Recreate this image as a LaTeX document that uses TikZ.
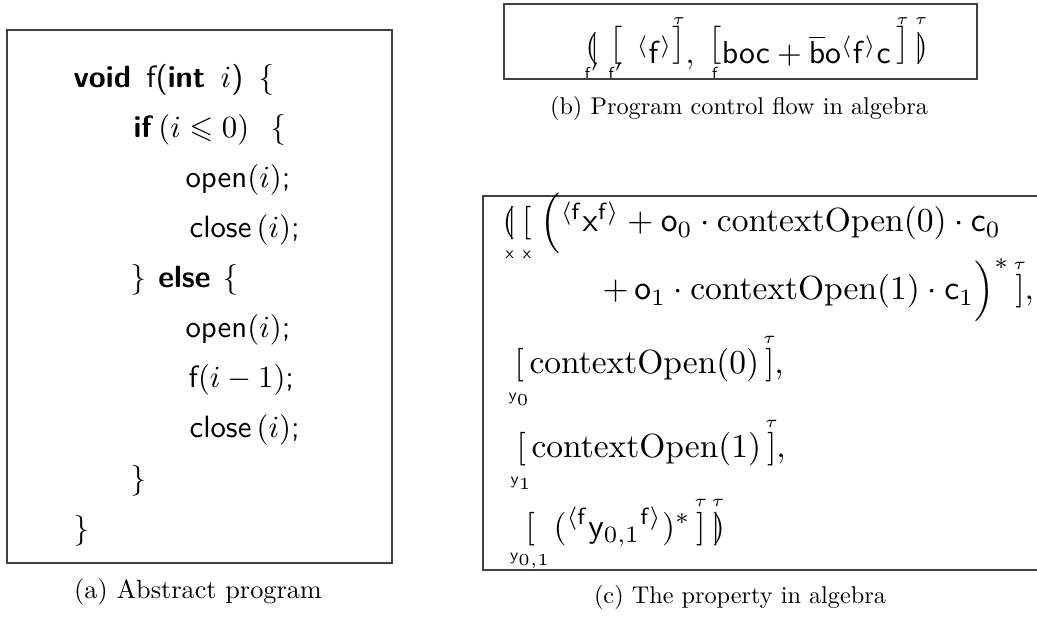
\documentclass[tikz,border=0pt]{standalone}
\usepackage{amsmath,amssymb}
\tikzset{
  frame/.style={draw=black!75, line width=0.5pt},
  codeline/.style={anchor=base west, inner sep=0pt, scale=1.23, font=\sffamily},
  formula/.style={anchor=base west, inner sep=0pt, scale=1.34},
  caption/.style={anchor=base, inner sep=0pt},
}
\newcommand{\llpar}{{(\mkern-4.5mu|}}
\newcommand{\rrpar}{{|\mkern-4.5mu)}}
% #1 symbol, #2 raise of symbol, #3 label, #4 raise of label (centred on the symbol)
\newcommand{\lab}[4]{\mathord{\setbox0=\hbox{\raisebox{#2}{$#1$}}\hbox to\wd0{\hss\raisebox{#4}[0pt][0pt]{$\scriptscriptstyle #3$}\hss}\kern-\wd0\box0}}
\begin{document}
\begin{tikzpicture}[x=0.4pt,y=-0.4pt]
\useasboundingbox (0,0) rectangle (1037,617);
% ---------- (a) ----------
\draw[frame] (7,30) rectangle (392,563);
\node[codeline] (a1) at (73,88) {\textbf{void}\hskip5pt f(\textbf{int}\hskip5pt$i$)\hskip5pt\{};
\node[codeline] (a2) at (133,138) {\textbf{if}\,$(i\leqslant 0)$\hskip7pt\{};
\node[codeline] (a3) at (185,188) {open$(i)$;};
\node[codeline] (a4) at (189,238) {close\,$(i)$;};
\node[codeline] (a5) at (130,288) {\}\hskip4pt\textbf{else}\hskip4pt\{};
\node[codeline] (a6) at (185,338) {open$(i)$;};
\node[codeline] (a7) at (188,388) {f$(i-1)$;};
\node[codeline] (a8) at (189,438) {close\,$(i)$;};
\node[codeline] (a9) at (130,488) {\}};
\node[codeline] (a10) at (73,538) {\}};
\node[caption, scale=1.05] (capa) at (198,598) {(a) Abstract program};
% ---------- (b) ----------
\draw[frame] (504,4) rectangle (977,79);
\node[formula, scale=1.27/1.34] (fb) at (585,64) {$\lab{\llpar}{2.5pt}{\mathsf{f}'}{-4.5pt}\mkern6mu\lab{\big[}{3.5pt}{\mathsf{f}'}{-4.5pt}\mkern8mu{}^{\langle}\mathsf{f}^{\rangle}\lab{\big]}{3.5pt}{\tau}{12.5pt},\;\lab{\big[}{3.5pt}{\mathsf{f}}{-4.5pt}\mathsf{boc}+\overline{\mathsf{b}}\mathsf{o}{}^{\langle}\mathsf{f}^{\rangle}\mathsf{c}\,\lab{\big]}{3.5pt}{\tau}{12.5pt}\,\lab{\rrpar}{2.5pt}{\tau}{12.5pt}$};
\node[caption, scale=0.97] (capb) at (739,115) {(b) Program control flow in algebra};
% ---------- (c) ----------
\draw[frame] (1045,196) -- (483,196) -- (483,570) -- (1045,570);
\node[formula] (c1) at (502,232) {$\lab{\llpar}{0pt}{\mathsf{x}}{-8pt}\,\lab{[}{0pt}{\mathsf{x}}{-8pt}\;\Big({}^{\langle\mathsf{f}}\mathsf{x}^{\mathsf{f}\rangle}+\mathsf{o}_0\cdot\mathrm{contextOpen}(0)\cdot\mathsf{c}_0$};
\node[formula] (c2) at (602,300) {$\mathord{+}\,\mathsf{o}_1\cdot\mathrm{contextOpen}(1)\cdot\mathsf{c}_1\Big)^{*}\,\lab{]}{0pt}{\tau}{9pt},$};
\node[formula] (c3) at (514,374) {$\lab{[}{0pt}{\mathsf{y}_0}{-8pt}\,\mathrm{contextOpen}(0)\,\lab{]}{0pt}{\tau}{9pt},$};
\node[formula] (c4) at (516,458) {$\lab{[}{0pt}{\mathsf{y}_1}{-8pt}\,\mathrm{contextOpen}(1)\,\lab{]}{0pt}{\tau}{9pt},$};
\node[formula] (c5) at (525,537) {$\lab{[}{0pt}{\mathsf{y}_{0,1}}{-7pt}\;\;({}^{\langle\mathsf{f}}\mathsf{y}_{0,1}{}^{\mathsf{f}\rangle})^{*}\,\lab{]}{0pt}{\tau}{9pt}\,\lab{\rrpar}{0pt}{\tau}{9pt}$};
\node[caption, scale=0.97] (capc) at (740,603) {(c) The property in algebra};
\end{tikzpicture}
\end{document}
